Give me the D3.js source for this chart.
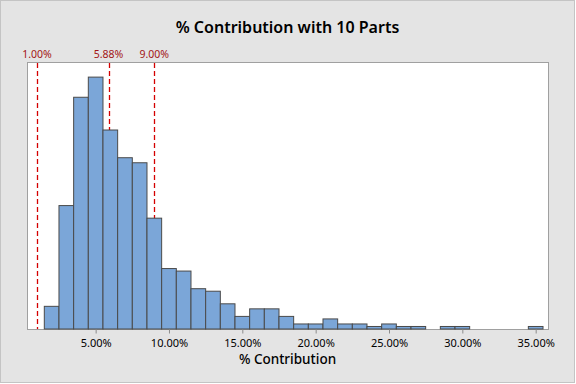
<!DOCTYPE html>
<html>
<head>
<meta charset="utf-8">
<script src="https://cdn.jsdelivr.net/npm/d3@7"></script>
<style>
  html, body { margin: 0; padding: 0; background: #fff; }
  svg { display: block; }
  text { font-family: "Noto Sans", "Open Sans", sans-serif; }
</style>
</head>
<body>
<svg id="chart" width="576" height="384"></svg>
<script>
// Bin midpoints (% contribution) and counts per bin (bin width 1%)
const binMids = [2, 3, 4, 5, 6, 7, 8, 9, 10, 11, 12, 13, 14, 15, 16, 17, 18, 19, 20, 21, 22, 23, 24, 25, 26, 27, 28, 29, 30, 31, 32, 33, 34, 35];
const counts  = [9, 49, 92, 100, 79, 68, 66, 44, 24, 23, 16, 15, 10, 5, 8, 8, 5, 2, 2, 4, 2, 2, 1, 2, 1, 1, 0, 1, 1, 0, 0, 0, 0, 1];
const binWidth = 1;
const xTicks = [5, 10, 15, 20, 25, 30, 35];
const refLines = [1.00, 5.88, 9.00];
const refLabels = ["1.00%", "5.88%", "9.00%"];
const title = "% Contribution with 10 Parts";
const xTitle = "% Contribution";

const W = 576, H = 384;
const plot = { left: 27, right: 548, top: 62, bottom: 329 };

const svg = d3.select("#chart");

// background + outer border
svg.append("rect").attr("x", 0.5).attr("y", 0.5).attr("width", W - 2).attr("height", H - 2)
  .attr("fill", "#e4e4e4").attr("stroke", "#c4c4c4").attr("stroke-width", 1);

const x = d3.scaleLinear().domain([0.32, 35.84]).range([plot.left, plot.right]);
const y = d3.scaleLinear().domain([0, 106]).range([plot.bottom, plot.top]);

// plot area
svg.append("rect").attr("x", plot.left + 0.5).attr("y", plot.top + 0.5)
  .attr("width", plot.right - plot.left).attr("height", plot.bottom - plot.top)
  .attr("fill", "#ffffff").attr("stroke", "#a0a0a0").attr("stroke-width", 1);

// reference lines (behind bars)
const rg = svg.append("g");
rg.selectAll("line").data(refLines).join("line")
  .attr("x1", d => Math.round(x(d)) + 0.5).attr("x2", d => Math.round(x(d)) + 0.5)
  .attr("y1", plot.top + 1).attr("y2", plot.bottom)
  .attr("stroke", "#d40000").attr("stroke-width", 1.3)
  .attr("stroke-dasharray", "5,3");
rg.selectAll("text").data(refLines).join("text")
  .attr("x", d => x(d)).attr("y", 58)
  .attr("text-anchor", "middle")
  .attr("fill", "#a31515").attr("font-size", 10.5)
  .text((d, i) => refLabels[i]);

// bars
const data = binMids.map((m, i) => ({ m, c: counts[i] })).filter(d => d.c > 0);
svg.append("g").selectAll("rect").data(data).join("rect")
  .attr("x", d => x(d.m - binWidth / 2))
  .attr("y", d => y(d.c))
  .attr("width", d => x(d.m + binWidth / 2) - x(d.m - binWidth / 2))
  .attr("height", d => y(0) - y(d.c))
  .attr("fill", "#7ba6d8")
  .attr("stroke", "#4a4a4a")
  .attr("stroke-width", 1);

// x axis
const axis = d3.axisBottom(x).tickValues(xTicks).tickSize(4).tickSizeOuter(0)
  .tickFormat(d => d3.format(".2f")(d) + "%");
const gx = svg.append("g").attr("transform", `translate(0,${plot.bottom + 0.5})`).call(axis);
gx.select(".domain").remove();
gx.selectAll("line").attr("stroke", "#8c8c8c");
gx.selectAll("text").attr("fill", "#000").attr("font-size", 11)
  .attr("font-family", "'Noto Sans', sans-serif").attr("dy", "0.95em");

// titles
svg.append("text").attr("x", (plot.left + plot.right) / 2).attr("y", 33)
  .attr("text-anchor", "middle").attr("font-size", 16).attr("font-weight", 600)
  .attr("fill", "#000").text(title);
svg.append("text").attr("x", (plot.left + plot.right) / 2).attr("y", 364)
  .attr("text-anchor", "middle").attr("font-size", 13.5).attr("font-weight", 500)
  .attr("fill", "#000").text(xTitle);
</script>
</body>
</html>
